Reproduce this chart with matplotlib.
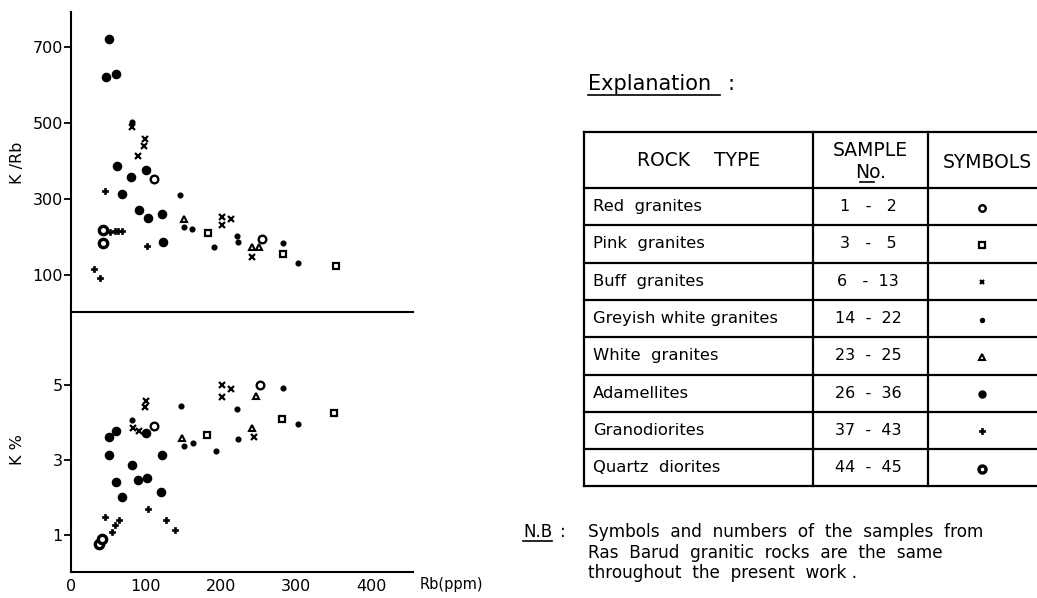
import matplotlib
matplotlib.use('Agg')
import matplotlib.pyplot as plt

rock_types = ["Red  granites", "Pink  granites", "Buff  granites", "Greyish white granites",
              "White  granites", "Adamellites", "Granodiorites", "Quartz  diorites"]
sample_nos = ["1   -   2", "3   -   5", "6   -  13", "14  -  22", "23  -  25",
              "26  -  36", "37  -  43", "44  -  45"]

# K/Rb ratio against Rb (ppm)
red_rb = [111, 255]
red_krb = [352, 196]
pink_rb = [183, 283, 353]
pink_krb = [211, 155, 124]
buff_rb = [81, 98, 97, 89, 202, 202, 213, 242]
buff_krb = [490, 458, 440, 412, 253, 231, 247, 148]
grey_rb = [81, 145, 151, 161, 191, 222, 223, 282, 303]
grey_krb = [503, 310, 227, 221, 174, 203, 186, 183, 131]
white_rb = [151, 242, 251]
white_krb = [247, 174, 174]
adam_rb = [50, 47, 60, 61, 80, 68, 100, 91, 102, 121, 123]
adam_krb = [720, 622, 630, 387, 358, 313, 376, 271, 251, 261, 188]
grano_rb = [45, 52, 58, 63, 68, 101, 30, 39]
grano_krb = [322, 212, 216, 216, 216, 177, 115, 91]
qd_rb = [42, 42]
qd_krb = [218, 183]

# K % against Rb (ppm)
red_rb2 = [111, 252]
red_k = [3.89, 4.99]
pink_rb2 = [181, 281, 351]
pink_k = [3.67, 4.09, 4.24]
buff_rb2 = [82, 90, 100, 98, 202, 202, 214, 244]
buff_k = [3.84, 3.78, 4.56, 4.40, 4.99, 4.69, 4.88, 3.62]
grey_rb2 = [81, 147, 150, 162, 193, 222, 223, 282, 302]
grey_k = [4.05, 4.44, 3.37, 3.46, 3.24, 4.35, 3.56, 4.91, 3.96]
white_rb2 = [148, 241, 247]
white_k = [3.58, 3.86, 4.71]
adam_rb2 = [50, 60, 51, 60, 68, 81, 89, 101, 100, 121, 120]
adam_k = [3.62, 3.77, 3.12, 2.40, 2.00, 2.87, 2.47, 2.51, 3.71, 3.12, 2.13]
grano_rb2 = [45, 55, 59, 64, 102, 127, 138]
grano_k = [1.47, 1.06, 1.25, 1.40, 1.68, 1.38, 1.13]
qd_rb2 = [37, 41]
qd_k = [0.76, 0.87]

styles = [
    dict(marker='o', ms=5.5, mfc='white', mec='black', mew=1.7),
    dict(marker='s', ms=4.8, mfc='white', mec='black', mew=1.6),
    dict(marker='x', ms=4.0, mec='black', mew=1.6),
    dict(marker='o', ms=3.4, mfc='black', mec='black'),
    dict(marker='^', ms=5.0, mfc='white', mec='black', mew=1.5),
    dict(marker='o', ms=5.9, mfc='black', mec='black'),
    dict(marker='P', ms=4.4, mfc='black', mec='black', mew=0.5),
    dict(marker='o', ms=6.0, mfc='white', mec='black', mew=2.4),
]

top_sets = [(red_rb, red_krb), (pink_rb, pink_krb), (buff_rb, buff_krb), (grey_rb, grey_krb),
            (white_rb, white_krb), (adam_rb, adam_krb), (grano_rb, grano_krb), (qd_rb, qd_krb)]
bot_sets = [(red_rb2, red_k), (pink_rb2, pink_k), (buff_rb2, buff_k), (grey_rb2, grey_k),
            (white_rb2, white_k), (adam_rb2, adam_k), (grano_rb2, grano_k), (qd_rb2, qd_k)]

W, H = 1037, 598
plt.rcParams['font.family'] = 'DejaVu Sans'
fig = plt.figure(figsize=(W / 100, H / 100), dpi=100)

x0, x1 = 71, 413
ax_top = fig.add_axes([x0 / W, 1 - 313 / H, (x1 - x0) / W, (313 - 12) / H])
ax_bot = fig.add_axes([x0 / W, 1 - 572 / H, (x1 - x0) / W, (572 - 312) / H])

for (rb, v), st in zip(top_sets, styles):
    ax_top.plot(rb, v, ls='none', **st)
for (rb, v), st in zip(bot_sets, styles):
    ax_bot.plot(rb, v, ls='none', **st)

ax_top.set_xlim(0, 456)
ax_top.set_ylim(0, 792)
ax_bot.set_xlim(0, 456)
ax_bot.set_ylim(0, 6.95)

for ax in (ax_top, ax_bot):
    ax.spines['right'].set_visible(False)
    for s in ax.spines.values():
        s.set_linewidth(1.5)
ax_top.spines['top'].set_visible(False)
ax_top.spines['bottom'].set_visible(False)

ax_top.set_xticks([])
ax_top.set_yticks([100, 300, 500, 700])
ax_bot.set_yticks([1, 3, 5])
ax_bot.set_xticks([0, 100, 200, 300, 400])
for ax in (ax_top, ax_bot):
    ax.tick_params(axis='y', direction='out', length=5, width=1.3, labelsize=11.5, pad=1)
ax_bot.tick_params(axis='x', length=0, labelsize=11.5, pad=5)

ax_top.set_ylabel("K /Rb", fontsize=11.5)
ax_bot.set_ylabel("K %", fontsize=11.5)
ax_top.yaxis.set_label_coords(-0.135, 0.5)
ax_bot.yaxis.set_label_coords(-0.135, 0.47)
fig.text(420 / W, 1 - 585 / H, "Rb(ppm)", fontsize=10.5, va='center', ha='left')

# explanation table, drawn in pixel units over the whole figure
tab = fig.add_axes([0, 0, 1, 1])
tab.set_xlim(0, W)
tab.set_ylim(H, 0)
tab.axis('off')

tab.text(588, 90, "Explanation", fontsize=15, va='baseline')
tab.text(727, 90, ":", fontsize=15, va='baseline')
tab.plot([588, 720], [95, 95], color='black', lw=1.2)

head_top, head_bot, row_h = 132, 188, 37.3
left, c1, c2 = 584, 813, 928
n = len(rock_types)
ys = [head_top, head_bot] + [head_bot + row_h * (i + 1) for i in range(n)]
for y in ys:
    tab.plot([left, W], [y, y], color='black', lw=1.6)
for x in (left, c1, c2):
    tab.plot([x, x], [head_top, ys[-1]], color='black', lw=1.6)

tab.text((left + c1) / 2, 160, "ROCK    TYPE", fontsize=13.5, ha='center', va='center')
tab.text((c1 + c2) / 2, 151, "SAMPLE", fontsize=13.5, ha='center', va='center')
tab.text((c1 + c2) / 2, 172, "No.", fontsize=13.5, ha='center', va='center')
tab.plot([860, 874], [182, 182], color='black', lw=1.2)
tab.text(987, 162, "SYMBOLS", fontsize=13.5, ha='center', va='center')

for i, (name, no, st) in enumerate(zip(rock_types, sample_nos, styles)):
    yc = head_bot + row_h * (i + 0.5)
    tab.text(593, yc, name, fontsize=11.8, va='center', ha='left')
    tab.text(868, yc, no, fontsize=11.5, va='center', ha='center')
    small = dict(st)
    small['ms'] = st['ms'] * 0.85
    tab.plot([982], [yc + 1], ls='none', **small)

tab.text(523, 537, "N.B", fontsize=12, va='baseline')
tab.plot([523, 552], [541, 541], color='black', lw=1.2)
tab.text(560, 537, ":", fontsize=12, va='baseline')
nb_lines = ["Symbols  and  numbers  of  the  samples  from",
            "Ras  Barud  granitic  rocks  are  the  same",
            "throughout  the  present  work ."]
for k, line in enumerate(nb_lines):
    tab.text(588, 537 + 20.5 * k, line, fontsize=12.2, va='baseline')

fig.savefig("out.png", dpi=100, facecolor='white')
